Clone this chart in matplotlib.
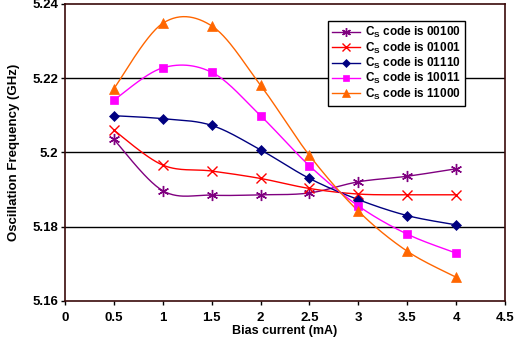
import numpy as np
import matplotlib
matplotlib.use("Agg")
import matplotlib.pyplot as plt

bias_ma = [0.5, 1.0, 1.5, 2.0, 2.5, 3.0, 3.5, 4.0]
codes = ["00100", "01001", "01110", "10011", "11000"]
freq_00100 = [5.2035, 5.1897, 5.1885, 5.1886, 5.1891, 5.1921, 5.1936, 5.1956]
freq_01001 = [5.2060, 5.1966, 5.1950, 5.1930, 5.1903, 5.1888, 5.1886, 5.1886]
freq_01110 = [5.2099, 5.2091, 5.2073, 5.2007, 5.1930, 5.1873, 5.1830, 5.1805]
freq_10011 = [5.2141, 5.2228, 5.2216, 5.2099, 5.1964, 5.1856, 5.1780, 5.1729]
freq_11000 = [5.2172, 5.2348, 5.2341, 5.2181, 5.1992, 5.1842, 5.1734, 5.1664]

series = [freq_00100, freq_01001, freq_01110, freq_10011, freq_11000]
colors = ["#800080", "#FF0000", "#000080", "#FF00FF", "#FF6600"]
markers = [(6, 2, 0), "x", "D", "s", "^"]
msizes = [8, 7, 5, 6, 7]

plt.rcParams["font.family"] = ["Liberation Sans", "DejaVu Sans"]
plt.rcParams["font.weight"] = "bold"
plt.rcParams["mathtext.fontset"] = "custom"
plt.rcParams["mathtext.rm"] = "Liberation Sans:bold"
plt.rcParams["mathtext.bf"] = "Liberation Sans:bold"


def smooth(x, y, n=30):
    # Excel-style smoothed line (Catmull-Rom / Bezier with 1/6 tension)
    x = np.asarray(x, float)
    y = np.asarray(y, float)
    px = np.concatenate([[x[0]], x, [x[-1]]])
    py = np.concatenate([[y[0]], y, [y[-1]]])
    xs, ys = [], []
    t = np.linspace(0, 1, n)
    for i in range(1, len(px) - 2):
        p0 = np.array([px[i], py[i]])
        p3 = np.array([px[i + 1], py[i + 1]])
        c1 = p0 + (p3 - np.array([px[i - 1], py[i - 1]])) / 6
        c2 = p3 - (np.array([px[i + 2], py[i + 2]]) - p0) / 6
        b = ((1 - t) ** 3)[:, None] * p0 + (3 * (1 - t) ** 2 * t)[:, None] * c1 \
            + (3 * (1 - t) * t ** 2)[:, None] * c2 + (t ** 3)[:, None] * p3
        xs.extend(b[:, 0])
        ys.extend(b[:, 1])
    return xs, ys


fig = plt.figure(figsize=(5.23, 3.47), dpi=100)
ax = fig.add_axes([0.1243, 0.1326, 0.8413, 0.856])

for ax_y in [5.18, 5.20, 5.22]:
    ax.axhline(ax_y, color="black", lw=1.0, zorder=1)

for vals, code, c, m, ms in zip(series, codes, colors, markers, msizes):
    sx, sy = smooth(bias_ma, vals)
    ax.plot(sx, sy, color=c, lw=1.0, zorder=2)
    mew = 1.0 if m in ("x", (6, 2, 0)) else 0.5
    ax.plot(bias_ma, vals, linestyle="none", marker=m, ms=ms, color=c,
            mec=c, mew=mew, zorder=3)
    ax.plot([], [], color=c, lw=1.0, marker=m, ms=ms * 0.8, mew=mew,
            label=r"C$_{\mathbf{S}}$ code is " + code)

ax.set_xlim(0, 4.5)
ax.set_ylim(5.16, 5.24)
ax.set_xticks(np.arange(0, 4.51, 0.5))
ax.set_xticklabels(["0", "0.5", "1", "1.5", "2", "2.5", "3", "3.5", "4", "4.5"])
ax.set_yticks([5.16, 5.18, 5.20, 5.22, 5.24])
ax.set_yticklabels(["5.16", "5.18", "5.2", "5.22", "5.24"])
ax.tick_params(axis="both", labelsize=9.5, direction="out", length=3, width=1)
ax.tick_params(axis="x", pad=5)
ax.tick_params(axis="y", pad=2)
for s in ax.spines.values():
    s.set_color("#3a0a0a")
    s.set_linewidth(1.2)

ax.set_xlabel("Bias current (mA)", fontsize=9, fontweight="bold", labelpad=1)
ax.set_ylabel("Oscillation Frequency (GHz)", fontsize=9.5, fontweight="bold",
              labelpad=9)

leg = ax.legend(loc="upper left", bbox_to_anchor=(0.585, 0.962), fontsize=8.5,
                frameon=True, fancybox=False, framealpha=1, edgecolor="black",
                handlelength=2.3, handletextpad=0.5, labelspacing=0.02,
                borderpad=0.35)
leg.get_frame().set_linewidth(1.0)
leg.set_zorder(5)

fig.savefig("out.png", dpi=100)
